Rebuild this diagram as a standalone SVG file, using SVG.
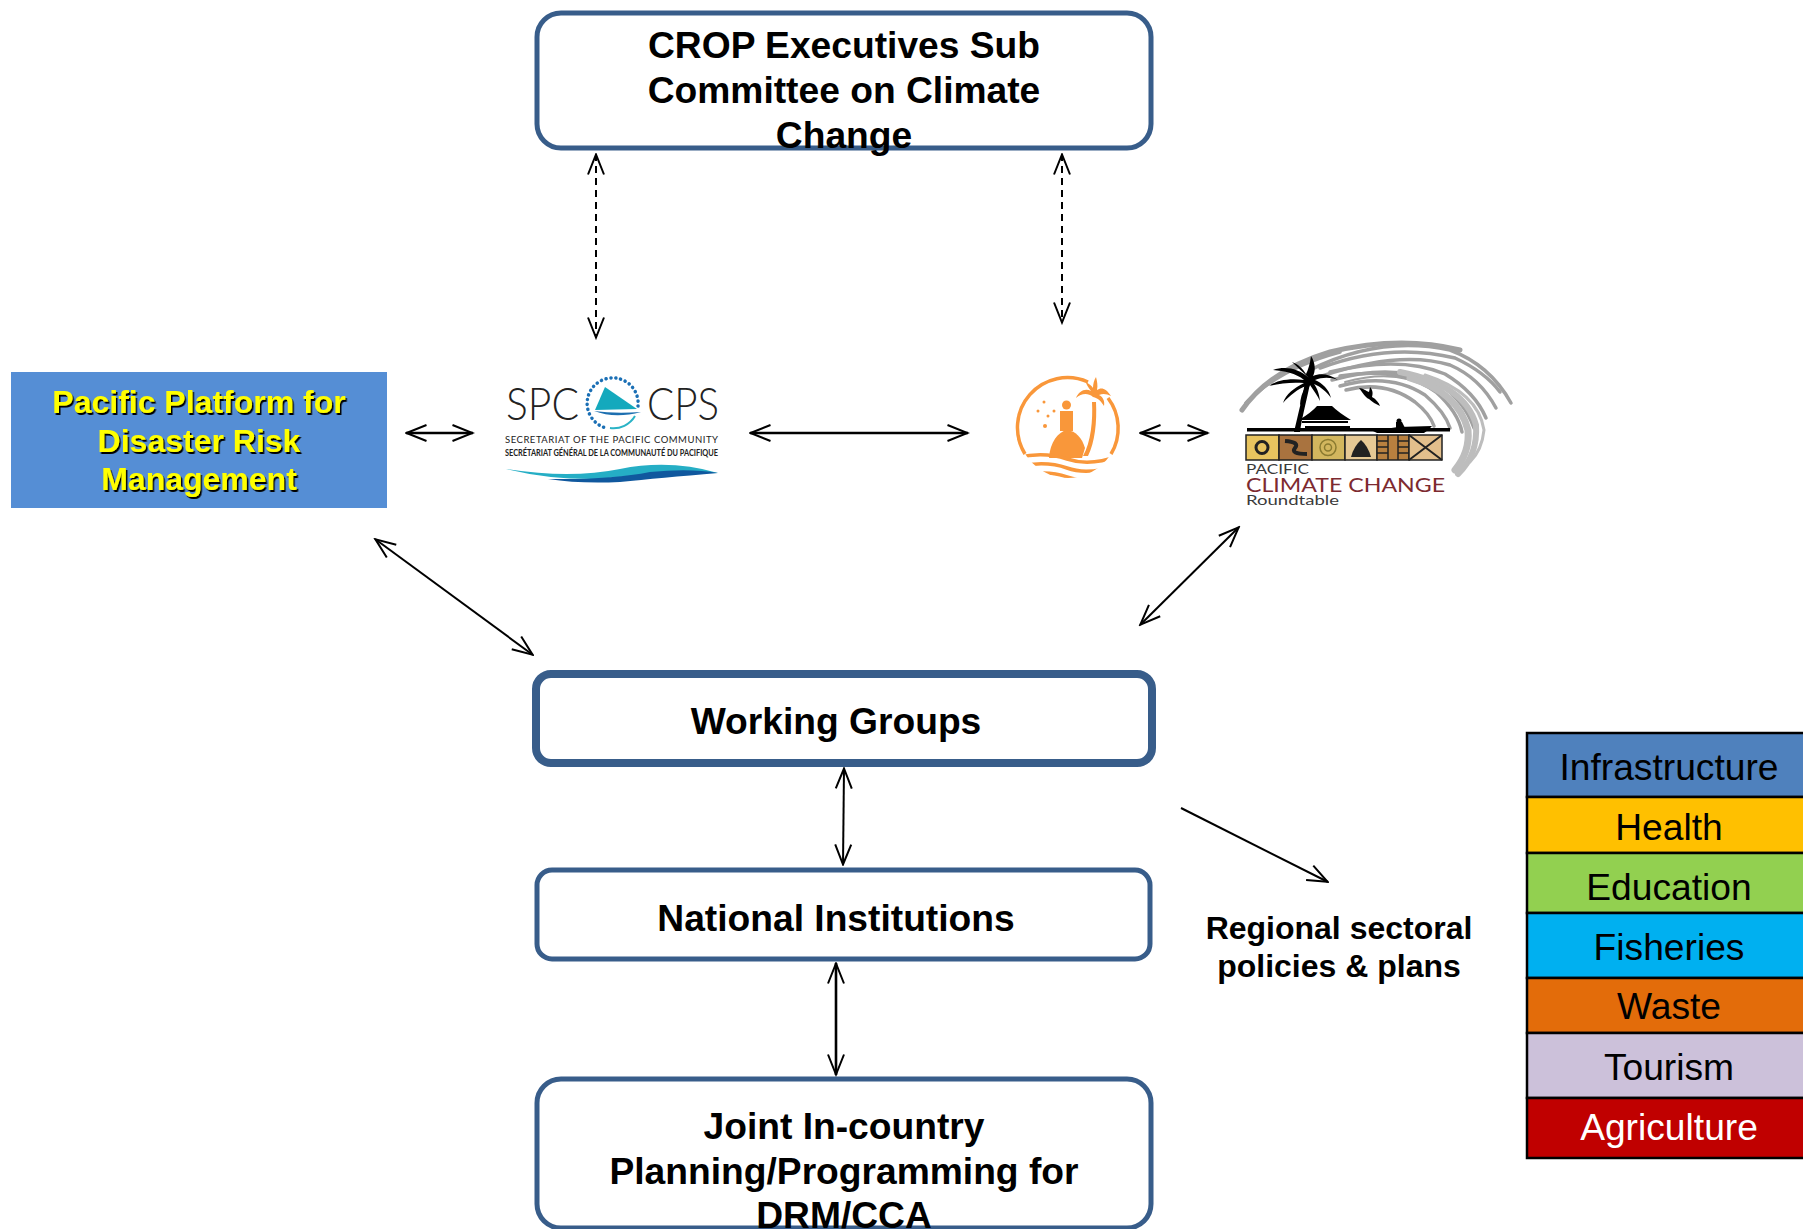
<svg xmlns="http://www.w3.org/2000/svg" width="1803" height="1229" viewBox="0 0 1803 1229">
<style>
text{font-family:"Liberation Sans",Arial,sans-serif}
.t{font-size:37.200px;font-weight:700;fill:#000;text-anchor:middle}
.box{fill:#fff;stroke:#385D8A;stroke-width:5}
.c{fill:none;stroke:#000;stroke-width:2;marker-start:url(#a);marker-end:url(#a)}
.th{stroke-width:2.600}
.one{marker-start:none}
.band{stroke:#000;stroke-width:2.500}
.l{font-size:37.200px;text-anchor:middle;fill:#000}
.sp{font-size:32px;font-weight:700;fill:#ff0;text-anchor:middle;filter:url(#sh)}
.sw{fill:none;stroke-linecap:round}
.logo{font-family:"Lato","Liberation Sans",sans-serif}
.o{fill:#F9973A}
.ol{fill:none;stroke:#F9973A;stroke-width:3.500}
</style>
<defs>
<marker id="a" viewBox="0 0 24 20" refX="22.5" refY="10" markerWidth="24" markerHeight="20" markerUnits="userSpaceOnUse" orient="auto-start-reverse"><path d="M2 2L22 10L2 18" fill="none" stroke="#000" stroke-width="2"/></marker>
<filter id="sh" x="-5%" y="-10%" width="110%" height="125%"><feDropShadow dx="1.500" dy="2" stdDeviation="0.400" flood-color="#000"/></filter>
<clipPath id="disc"><circle cx="1068" cy="428" r="50"/></clipPath>
</defs>
<g id="connectors">
<path class="c" d="M596 154V338" stroke-dasharray="7 5"/>
<path class="c" d="M1062 154V323" stroke-dasharray="7 5"/>
<path class="c th" d="M406 433H473"/>
<path class="c th" d="M750 433H968"/>
<path class="c th" d="M1140 433H1208"/>
<path class="c" d="M375 539L533 655"/>
<path class="c" d="M1239 527L1140 625"/>
<path class="c" d="M844 768L843 865"/>
<path class="c th" d="M836 963V1075"/>
<path class="c one" d="M1181 808L1328 882"/>
</g>
<g id="crop"><rect class="box" x="537" y="13" width="614" height="135" rx="24"/>
<text class="t" x="844" y="58">CROP Executives Sub</text><text class="t" x="844" y="103">Committee on Climate</text><text class="t" x="844" y="148">Change</text></g>
<g id="platform"><rect x="11" y="372" width="376" height="136" fill="#558ED5"/>
<text class="sp" x="199" y="413">Pacific Platform for</text><text class="sp" x="199" y="452">Disaster Risk</text><text class="sp" x="199" y="490">Management</text></g>
<g id="spc">
<text class="logo" x="506" y="420" font-size="46" font-weight="300" fill="#222" textLength="73" lengthAdjust="spacingAndGlyphs">SPC</text>
<text class="logo" x="647" y="420" font-size="46" font-weight="300" fill="#222" textLength="72" lengthAdjust="spacingAndGlyphs">CPS</text>
<path d="M638 406A25.500 25.500 0 1 0 606 428" fill="none" stroke="#1a6fb5" stroke-width="3.500" stroke-linecap="round" stroke-dasharray="0.100 4.800"/>
<path d="M635 416A25 25 0 0 1 610 428" fill="none" stroke="#2ab3c6" stroke-width="2"/>
<path d="M605 387L637 409L595 410Z" fill="#14a9bd"/>
<path d="M594 411Q615 414 641 412Q615 419 594 411Z" fill="#1d6fb0"/>
<text class="logo" x="505" y="443" font-size="9.500" fill="#222" textLength="213">SECRETARIAT OF THE PACIFIC COMMUNITY</text>
<text class="logo" x="505" y="456" font-size="10" font-weight="700" fill="#222" textLength="213" lengthAdjust="spacingAndGlyphs">SECRÉTARIAT GÉNÉRAL DE LA COMMUNAUTÉ DU PACIFIQUE</text>
<path d="M506 469Q570 479 620 469T718 473Q640 474 600 479Q550 480 506 469Z" fill="#25aec5"/>
<path d="M548 479Q610 480 650 472Q690 468 718 473Q660 478 620 482Q580 484 548 479Z" fill="#10589e"/>
</g>
<g id="island">
<path class="ol" d="M1088 382A50 50 0 0 0 1025 454"/>
<path class="ol" d="M1108 398A50 50 0 0 1 1111 454"/>
<circle cx="1066.500" cy="405" r="4.500" class="o"/>
<path class="o" d="M1060 411H1073V431H1060Z"/>
<path class="o" d="M1049 458C1050 442 1058 432 1067 430C1076 431 1082 438 1085 448L1082 458Z"/>
<path class="o" d="M1083 456C1091 442 1093 420 1092 402L1096 402C1097 422 1095 442 1088 456Z"/>
<path class="o" d="M1093 397C1087 392 1081 394 1076 398C1079 391 1085 388 1091 391C1088 387 1086 384 1086 382C1089 384 1092 386 1093 388C1093 384 1094 380 1096 377C1097 381 1098 385 1097 390C1101 387 1106 388 1111 396C1107 394 1103 393 1099 395C1103 397 1105 401 1104 406C1101 401 1098 398 1093 397Z"/>
<g class="o"><circle cx="1044" cy="402" r="1.500"/><circle cx="1038" cy="411" r="1.500"/><circle cx="1054" cy="411" r="1.500"/><circle cx="1048" cy="416" r="1.500"/><circle cx="1045" cy="426" r="2"/></g>
<g clip-path="url(#disc)"><path class="ol" d="M1015 458Q1043 451 1067 459T1120 455M1015 467Q1045 460 1067 468T1120 464M1015 477Q1045 469 1067 477T1120 473"/></g>
</g>
<g id="pcc">
<g class="sw" stroke="#a0a0a0" stroke-width="3.500">
<path stroke-width="5" d="M1242 410Q1270 370 1330 352Q1400 335 1460 350"/>
<path d="M1246 403Q1280 368 1340 352"/>
<path d="M1310 370Q1380 335 1450 350Q1490 365 1511 403"/>
<path d="M1320 368Q1390 342 1455 358Q1485 372 1500 392"/>
<path d="M1322 376Q1400 350 1450 365Q1480 378 1496 408"/>
<path d="M1330 372Q1400 355 1445 374Q1475 392 1486 418"/>
<path d="M1332 380Q1395 362 1440 384Q1465 402 1474 428"/>
<path d="M1340 376Q1400 366 1436 392Q1458 412 1462 432"/>
<path d="M1340 386Q1390 372 1425 395Q1445 412 1450 428"/>
<path d="M1346 390Q1385 380 1415 402Q1430 414 1434 426"/>
<path stroke-width="2" d="M1345 382Q1395 368 1430 388"/>
</g>
<g class="sw" stroke="#bdbdbd">
<path stroke-width="6" d="M1400 372Q1465 385 1476 425Q1478 455 1458 474"/>
<path stroke-width="7" d="M1410 378Q1458 392 1468 430Q1470 452 1455 470"/>
<path stroke-width="3" d="M1425 375Q1478 392 1484 430Q1482 450 1470 462"/>
</g>
<g fill="#000">
<path d="M1294 432C1298 415 1303 395 1306 377L1311 378C1308 396 1302 416 1300 432Z"/>
<path d="M1309 378C1298 368 1285 366 1273 370C1284 371 1296 373 1304 380C1290 378 1277 380 1269 386C1281 383 1293 382 1304 383C1294 388 1286 394 1283 403C1290 395 1298 389 1306 386C1302 392 1300 399 1300 406C1304 398 1307 391 1310 385C1314 391 1317 395 1320 401C1319 393 1317 388 1314 384C1321 387 1327 392 1331 398C1329 389 1322 383 1315 380C1322 377 1331 377 1338 380C1330 374 1320 373 1313 376C1316 370 1315 362 1311 356C1310 364 1308 370 1306 374C1303 369 1298 364 1292 362C1297 367 1303 372 1309 378Z"/>
<path d="M1299 420Q1312 412 1317 406H1332Q1338 412 1351 420Z"/>
<path d="M1302 421H1348V423H1302Z"/><path d="M1305 426H1350V431H1305Z"/>
<path d="M1359 388C1363 388 1366 391 1369 392L1370 387C1373 390 1373 394 1372 397C1376 399 1379 403 1380 406C1376 404 1372 402 1369 399C1366 398 1362 392 1359 388Z"/>
<path d="M1367 428Q1385 430 1398 427L1432 426Q1428 431 1424 433H1377Z"/><circle cx="1399" cy="421" r="2.500"/><path d="M1396 422H1402L1405 428H1396Z"/>
<path d="M1247 428H1450V431.500H1247Z"/>
</g>
<g stroke="#222" stroke-width="1.500">
<rect x="1246" y="435" width="33" height="25" fill="#E8C45F"/><rect x="1279" y="435" width="33" height="25" fill="#A9733F"/><rect x="1312" y="435" width="33" height="25" fill="#D2B65E"/><rect x="1345" y="435" width="32" height="25" fill="#E6C995"/><rect x="1377" y="435" width="32" height="25" fill="#B8803F"/><rect x="1409" y="435" width="33" height="25" fill="#E3BF8C"/>
<circle cx="1262" cy="447.500" r="6" fill="none" stroke-width="3"/>
<path d="M1285 441Q1300 442 1295 448T1307 454" fill="none" stroke-width="4"/>
<circle cx="1328" cy="447.500" r="8" fill="none" stroke="#8a7a30"/><circle cx="1328" cy="447.500" r="3.500" fill="none" stroke="#8a7a30"/>
<path d="M1351 457Q1354 446 1361 440Q1368 446 1371 457Z" fill="#222" stroke="none"/>
<path d="M1388 435V460M1398 435V460M1377 441H1388M1377 447H1388M1377 453H1388M1398 441H1409M1398 447H1409M1398 453H1409" fill="none"/>
<path d="M1409 435L1442 460M1442 435L1409 460" fill="none" stroke-width="2"/>
</g>
<text class="logo" x="1246" y="474" font-size="14" fill="#3a3a3a" textLength="63" lengthAdjust="spacingAndGlyphs">PACIFIC</text>
<text class="logo" x="1246" y="491.500" font-size="20" fill="#7d2a30" textLength="199" lengthAdjust="spacingAndGlyphs">CLIMATE CHANGE</text>
<text class="logo" x="1246" y="505" font-size="14" fill="#3a3a3a" textLength="93" lengthAdjust="spacingAndGlyphs">Roundtable</text>
</g>
<g id="working-groups"><rect x="536" y="674" width="616" height="89" rx="15" fill="#fff" stroke="#385D8A" stroke-width="8"/>
<text class="t" x="836" y="734">Working Groups</text></g>
<g id="national"><rect class="box" x="537" y="870" width="613" height="89" rx="15"/>
<text class="t" x="836" y="931">National Institutions</text></g>
<g id="joint"><rect class="box" x="537" y="1079" width="614" height="149" rx="24"/>
<text class="t" x="844" y="1139">Joint In-country</text><text class="t" x="844" y="1184">Planning/Programming for</text><text class="t" x="844" y="1228">DRM/CCA</text></g>
<g id="regional"><text class="t" style="font-size:32px" x="1339" y="939">Regional sectoral</text><text class="t" style="font-size:32px" x="1339" y="977">policies &amp; plans</text></g>
<g id="sectors">
<rect class="band" x="1527" y="733" width="280" height="64" fill="#4F81BD"/><text class="l" x="1669" y="780">Infrastructure</text>
<rect class="band" x="1527" y="797" width="280" height="56" fill="#FFC000"/><text class="l" x="1669" y="840">Health</text>
<rect class="band" x="1527" y="853" width="280" height="60" fill="#92D050"/><text class="l" x="1669" y="900">Education</text>
<rect class="band" x="1527" y="913" width="280" height="65" fill="#00B0F0"/><text class="l" x="1669" y="960">Fisheries</text>
<rect class="band" x="1527" y="978" width="280" height="55" fill="#E36C0A"/><text class="l" x="1669" y="1019">Waste</text>
<rect class="band" x="1527" y="1033" width="280" height="65" fill="#CCC1DA"/><text class="l" x="1669" y="1080">Tourism</text>
<rect class="band" x="1527" y="1098" width="280" height="60" fill="#C00000"/><text class="l" x="1669" y="1140" style="fill:#fff">Agriculture</text>
</g>
</svg>
